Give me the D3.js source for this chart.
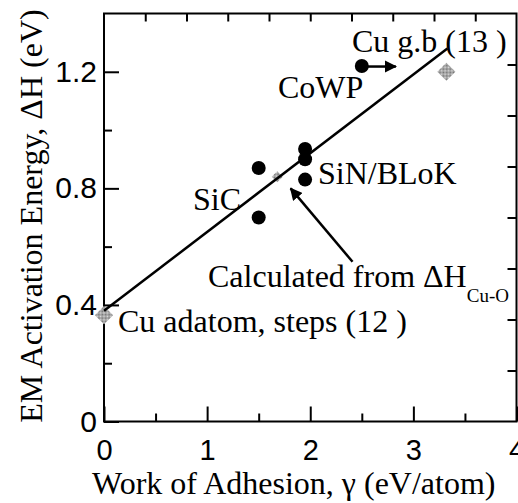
<!DOCTYPE html>
<html>
<head>
<meta charset="utf-8">
<script src="https://cdn.jsdelivr.net/npm/d3@7"></script>
<style>
  body { margin: 0; background: white; }
</style>
</head>
<body>
<div id="chart"></div>
<script>
// measured points (black dots)
var dotX = [1.5, 1.5, 1.95, 1.95, 1.95, 2.5];
var dotY = [0.87, 0.70, 0.935, 0.90, 0.83, 1.22];

// reference values (grey diamonds)
var refX = [0, 3.32];
var refY = [0.365, 1.20];

// calculated from dH Cu-O
var calcX = [1.68];
var calcY = [0.84];

// fitted line
var fitX = [0, 3.33];
var fitY = [0.38, 1.28];

var xTicks = [0, 1, 2, 3, 4];
var xMinor = [0.5, 1.5, 2.5, 3.5];
var yTicks = [0, 0.4, 0.8, 1.2];
var yMinor = [0.2, 0.6, 1.0];
var topTicks = [0.4, 0.8, 1.2, 1.6, 2.0, 2.4, 2.8, 3.2, 3.6];
var rightTicks = [0.175, 0.35, 0.525, 0.7, 0.875, 1.05, 1.225];

const width = 518;
const height = 503;
const margin = {top: 13.5, right: 1.5, bottom: 81.5, left: 104};
const chartWidth = width - margin.left - margin.right;
const chartHeight = height - margin.top - margin.bottom;

const serif = "'Liberation Serif', 'Times New Roman', serif";
const sans = "'Liberation Sans', Arial, sans-serif";

const xScale = d3.scaleLinear().domain([0, 4]).range([0, chartWidth]);
const yScale = d3.scaleLinear().domain([0, 1.4]).range([chartHeight, 0]);

let svg = d3.select('#chart')
    .append('svg')
    .attr('width', width)
    .attr('height', height);

// dithered grey for the diamonds
let defs = svg.append('defs');
let pat = defs.append('pattern')
    .attr('id', 'dither')
    .attr('patternUnits', 'userSpaceOnUse')
    .attr('width', 2).attr('height', 2);
pat.append('rect').attr('width', 2).attr('height', 2).attr('fill', '#dcdcdc');
pat.append('rect').attr('width', 1).attr('height', 1).attr('fill', '#707070');
pat.append('rect').attr('x', 1).attr('y', 1).attr('width', 1).attr('height', 1).attr('fill', '#707070');

defs.append('marker')
    .attr('id', 'head')
    .attr('viewBox', '0 0 10 10')
    .attr('refX', 9).attr('refY', 5)
    .attr('markerWidth', 5).attr('markerHeight', 5)
    .attr('markerUnits', 'strokeWidth')
    .attr('orient', 'auto')
  .append('path')
    .attr('d', 'M0,0 L10,5 L0,10 z')
    .attr('fill', 'black');

let g = svg.append('g')
    .attr('transform', `translate(${margin.left}, ${margin.top})`);

// frame
g.append('rect')
    .attr('x', 0).attr('y', 0)
    .attr('width', chartWidth).attr('height', chartHeight)
    .attr('fill', 'none')
    .attr('stroke', 'black')
    .attr('stroke-width', 2);

function styleAxis(ax) {
    ax.select('.domain').remove();
    ax.selectAll('.tick line').attr('stroke', 'black').attr('stroke-width', 2);
}

// bottom axis
let xAxis = g.append('g')
    .attr('transform', `translate(0, ${chartHeight})`)
    .call(d3.axisBottom(xScale).tickValues(xTicks).tickSize(-15).tickPadding(18).tickFormat(d3.format('d')));
styleAxis(xAxis);
xAxis.selectAll('text')
    .attr('fill', 'black')
    .style('font-family', sans)
    .style('font-size', '29px');

let xMinorAxis = g.append('g')
    .attr('transform', `translate(0, ${chartHeight})`)
    .call(d3.axisBottom(xScale).tickValues(xMinor).tickSize(-8).tickFormat(''));
styleAxis(xMinorAxis);

// left axis
let yAxis = g.append('g')
    .call(d3.axisLeft(yScale).tickValues(yTicks).tickSize(-15).tickPadding(7)
        .tickFormat((d) => d === 0 ? '0' : d3.format('.1f')(d)));
styleAxis(yAxis);
yAxis.selectAll('text')
    .attr('fill', 'black')
    .style('font-family', sans)
    .style('font-size', '30px');

let yMinorAxis = g.append('g')
    .call(d3.axisLeft(yScale).tickValues(yMinor).tickSize(-8).tickFormat(''));
styleAxis(yMinorAxis);

// top and right ticks
let topAxis = g.append('g')
    .call(d3.axisTop(xScale).tickValues(topTicks).tickSize(-8).tickFormat(''));
styleAxis(topAxis);

let rightAxis = g.append('g')
    .attr('transform', `translate(${chartWidth}, 0)`)
    .call(d3.axisRight(yScale).tickValues(rightTicks).tickSize(-9).tickFormat(''));
styleAxis(rightAxis);

// axis titles
svg.append('text')
    .attr('x', margin.left + xScale(1.84))
    .attr('y', 494)
    .attr('text-anchor', 'middle')
    .style('font-family', serif)
    .style('font-size', '32px')
    .text('Work of Adhesion, \u03B3 (eV/atom)');

svg.append('text')
    .attr('transform', 'rotate(-90)')
    .attr('x', -216)
    .attr('y', 42)
    .attr('text-anchor', 'middle')
    .style('font-family', serif)
    .style('font-size', '32px')
    .text('EM Activation Energy, \u0394H (eV)');

// diamonds (squares turned 45 degrees)
let diamond = d3.symbol().type(d3.symbolSquare);
g.selectAll('.ref')
    .data(refX.map((x, i) => ({x: x, y: refY[i]})))
    .enter()
    .append('path')
    .attr('class', 'ref')
    .attr('transform', (d) => `translate(${xScale(d.x)}, ${yScale(d.y)}) rotate(45)`)
    .attr('d', diamond.size(165))
    .attr('fill', 'url(#dither)');

g.selectAll('.calc')
    .data(calcX.map((x, i) => ({x: x, y: calcY[i]})))
    .enter()
    .append('path')
    .attr('class', 'calc')
    .attr('transform', (d) => `translate(${xScale(d.x)}, ${yScale(d.y)}) rotate(45)`)
    .attr('d', diamond.size(60))
    .attr('fill', 'url(#dither)');

// fitted line
g.append('path')
    .datum(fitX.map((x, i) => ({x: x, y: fitY[i]})))
    .attr('fill', 'none')
    .attr('stroke', 'black')
    .attr('stroke-width', 2.5)
    .attr('d', d3.line().x((d) => xScale(d.x)).y((d) => yScale(d.y)));

// dots
g.selectAll('.dot')
    .data(dotX.map((x, i) => ({x: x, y: dotY[i]})))
    .enter()
    .append('circle')
    .attr('class', 'dot')
    .attr('cx', (d) => xScale(d.x))
    .attr('cy', (d) => yScale(d.y))
    .attr('r', 7)
    .attr('fill', 'black');

// arrows
g.append('line')
    .attr('x1', xScale(2.56)).attr('y1', yScale(1.218))
    .attr('x2', xScale(2.83)).attr('y2', yScale(1.218))
    .attr('stroke', 'black')
    .attr('stroke-width', 2.5)
    .attr('marker-end', 'url(#head)');

g.append('line')
    .attr('x1', xScale(2.41)).attr('y1', yScale(0.548))
    .attr('x2', xScale(1.81)).attr('y2', yScale(0.80))
    .attr('stroke', 'black')
    .attr('stroke-width', 2.5)
    .attr('marker-end', 'url(#head)');

// labels
function label(x, y, txt) {
    return svg.append('text')
        .attr('x', x)
        .attr('y', y)
        .style('font-family', serif)
        .style('font-size', '32px')
        .text(txt);
}

label(352, 52, 'Cu g.b (13 )');
label(278, 98, 'CoWP');
label(318, 184, 'SiN/BLoK');
label(193, 210, 'SiC');
let calc = label(208, 287, 'Calculated from \u0394H');
calc.append('tspan')
    .attr('dy', 15)
    .style('font-size', '19px')
    .text('Cu-O');
label(118, 332, 'Cu adatom, steps (12 )');
</script>
</body>
</html>
